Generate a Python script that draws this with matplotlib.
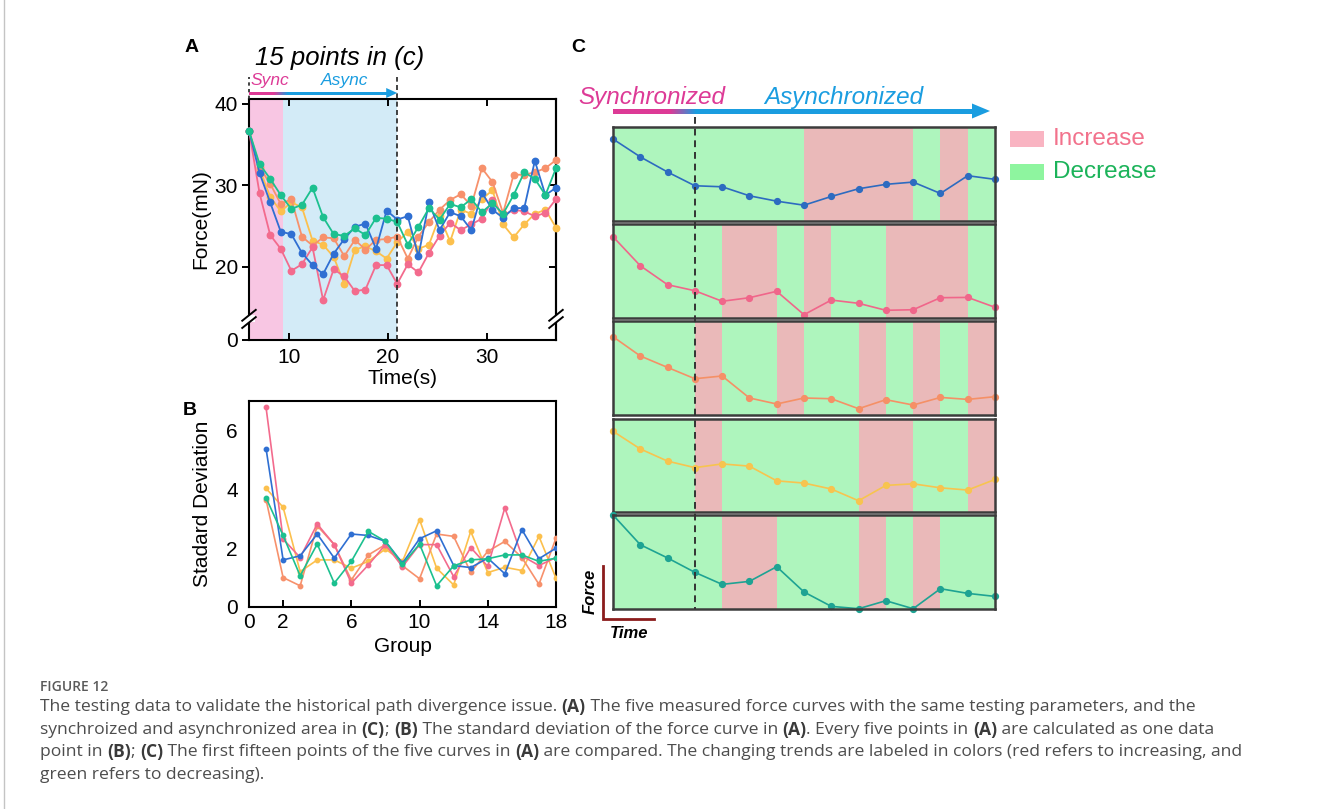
import numpy as np
import matplotlib
matplotlib.use("Agg")
import matplotlib.pyplot as plt
from matplotlib.patches import Polygon, Rectangle
from matplotlib.colors import to_rgb
import matplotlib.transforms as mtransforms

W, H = 1329, 809
plt.rcParams['font.family'] = ['Liberation Sans', 'DejaVu Sans']

# (A) five force curves, 30 samples between 6 s and 37 s
time_s = np.linspace(6, 37, 30)
force_pink = [36.7, 29.0, 23.9, 22.2, 19.5, 20.3, 22.4, 15.9, 19.7, 18.8, 17.0, 17.2, 20.2, 20.2, 17.9,
              20.3, 19.3, 21.7, 23.8, 25.4, 24.5, 25.2, 25.9, 28.2, 26.3, 27.0, 26.8, 26.2, 26.6, 28.3]
force_blue = [36.7, 31.5, 27.9, 24.3, 24.0, 21.7, 20.2, 19.1, 21.6, 23.4, 24.9, 25.3, 22.2, 26.9, 25.8,
              26.2, 21.3, 27.9, 24.5, 26.7, 26.2, 24.5, 29.1, 27.0, 26.0, 27.2, 27.2, 33.0, 28.8, 29.7]
force_orange = [36.7, 32.2, 30.2, 27.7, 28.3, 23.7, 22.6, 23.6, 23.5, 21.3, 23.3, 22.1, 23.3, 23.4, 23.7,
                21.0, 23.7, 25.5, 27.0, 28.2, 28.9, 27.5, 32.1, 30.4, 26.6, 31.3, 31.3, 31.6, 32.1, 33.1]
force_yellow = [36.7, 32.0, 28.6, 26.8, 27.9, 27.3, 23.2, 22.7, 21.2, 17.9, 22.1, 22.5, 21.9, 21.0, 23.0,
                24.3, 22.2, 22.7, 26.2, 23.1, 27.0, 26.5, 28.3, 29.4, 25.2, 23.6, 25.2, 26.5, 27.0, 24.8]
force_teal = [36.7, 32.6, 30.8, 28.8, 27.1, 27.6, 29.7, 26.1, 24.0, 23.8, 24.7, 23.9, 26.0, 25.9, 25.5,
              22.7, 24.9, 27.2, 25.8, 27.7, 27.3, 28.3, 26.7, 27.8, 26.5, 28.8, 31.6, 30.8, 28.8, 32.1]

# (B) standard deviation per group
groups = np.arange(1, 19)
std_pink = [6.78, 2.31, 1.68, 2.82, 2.12, 0.81, 1.43, 2.12, 1.37, 2.12, 2.12, 1.03, 2.02, 1.38, 3.37, 1.74, 1.41, 1.68]
std_blue = [5.38, 1.60, 1.74, 2.48, 1.66, 2.48, 2.43, 2.23, 1.49, 2.32, 2.59, 1.41, 1.34, 1.66, 1.13, 2.63, 1.64, 2.00]
std_orange = [3.65, 1.00, 0.72, 2.76, 2.12, 0.92, 1.77, 2.12, 1.40, 0.96, 2.48, 2.40, 1.18, 1.89, 2.23, 1.68, 0.77, 2.34]
std_yellow = [4.03, 3.39, 1.20, 1.60, 1.60, 1.32, 1.55, 1.97, 1.55, 2.97, 1.32, 0.75, 2.57, 1.17, 1.35, 1.24, 2.40, 0.98]
std_teal = [3.71, 2.43, 1.06, 2.14, 0.81, 1.55, 2.57, 2.23, 1.45, 2.14, 0.72, 1.40, 1.60, 1.64, 1.77, 1.77, 1.55, 1.66]

# (C) first fifteen points of each curve, relative force (0-100 per strip)
trend_blue = [87.2, 68.2, 52.1, 37.5, 36.4, 26.8, 21.1, 16.8, 26.1, 34.3, 39.0, 41.4, 29.3, 48.2, 44.3]
trend_pink = [86.5, 55.6, 35.4, 29.0, 17.8, 21.6, 28.4, 3.5, 19.1, 15.6, 8.2, 8.8, 21.6, 21.9, 11.4]
trend_orange = [83.3, 62.8, 50.6, 38.6, 41.5, 18.1, 11.7, 18.1, 17.3, 6.7, 16.3, 10.6, 18.7, 16.6, 19.5]
trend_yellow = [86.8, 67.8, 54.7, 47.7, 51.7, 49.3, 33.5, 31.1, 24.7, 12.1, 28.6, 30.3, 26.0, 23.6, 35.0]
trend_teal = [100.0, 68.4, 54.3, 39.0, 26.2, 29.4, 45.0, 18.1, 2.8, 0.3, 8.8, 0.3, 21.6, 16.6, 13.4]

SYNC_POINTS = 4      # points shared by all curves
WINDOW_POINTS = 15   # points compared in (C)

PINK, BLUE, ORANGE, YELLOW, TEAL = '#f36b8d', '#2f6fd2', '#f7916c', '#fcc04d', '#1cc08f'
C_COLORS = ['#2d6bc0', '#f0668a', '#f59066', '#f7c44f', '#1ea393']
MAGENTA, SKY = '#dd3a96', '#1a9de0'
UP_FILL, DOWN_FILL = '#eab9b9', '#aef5bd'

fig = plt.figure(figsize=(W / 100, H / 100), dpi=100)


def px_axes(left, top, right, bottom):
    return fig.add_axes([left / W, 1 - bottom / H, (right - left) / W, (bottom - top) / H])


# pixel-space overlay for annotations
ov = fig.add_axes([0, 0, 1, 1])
ov.axis('off')
ov.set_zorder(20)
ov.set_autoscale_on(False)
ov.set_xlim(0, W)
ov.set_ylim(H, 0)


def to_px(ax, x, y):
    dx, dy = ax.transData.transform((x, y))
    return dx, H - dy


def gradient_arrow(x0, x1, y, x_mid, blend, thick, head_len, head_w):
    xe = x1 - head_len + 0.5
    xs = np.linspace(x0, xe, 400)
    frac = np.clip((xs - (x_mid - blend / 2)) / blend, 0, 1)[:, None]
    cols = np.array(to_rgb(MAGENTA)) * (1 - frac) + np.array(to_rgb(SKY)) * frac
    ov.imshow(cols[None, :, :], extent=[x0, xe, y + thick / 2, y - thick / 2], aspect='auto',
              interpolation='bilinear', zorder=5)
    ov.add_patch(Polygon([(x1 - head_len, y - head_w / 2), (x1, y), (x1 - head_len, y + head_w / 2)],
                         closed=True, color=SKY, lw=0, zorder=5))


# page edge on the left
ov.plot([4, 4], [0, H], color='#c4c4c4', lw=1.0)

# ---------------- (A) ----------------
axA = px_axes(249, 99, 556, 340)
axA.set_xlim(6, 37)
axA.set_ylim(11, 40.6)
axA.axvspan(time_s[0], time_s[SYNC_POINTS - 1] + 0.2, color='#f8c6e3', lw=0, zorder=0)
axA.axvspan(time_s[SYNC_POINTS - 1] + 0.2, time_s[WINDOW_POINTS - 1], color='#d3ebf7', lw=0, zorder=0)
for ys, c in [(force_yellow, YELLOW), (force_orange, ORANGE), (force_pink, PINK),
              (force_blue, BLUE), (force_teal, TEAL)]:
    axA.plot(time_s, ys, '-o', color=c, lw=1.3, ms=4.6, clip_on=False, zorder=3)
axA.set_xticks([10, 20, 30])
axA.set_yticks([11, 20, 30, 40])
axA.set_yticklabels(['0', '20', '30', '40'])
axA.tick_params(axis='x', direction='in', top=True, length=5, width=1.4, labelsize=15, pad=6)
axA.tick_params(axis='y', direction='out', length=5, width=1.4, labelsize=15, pad=3)
secA = axA.secondary_yaxis('right')
secA.set_yticks([20, 30])
secA.tick_params(direction='in', length=5, width=1.4, labelright=False)
secA.spines['right'].set_linewidth(1.5)
for s in axA.spines.values():
    s.set_linewidth(1.5)
axA.set_xlabel('Time(s)', fontsize=15, labelpad=1)
axA.set_ylabel('Force(mN)', fontsize=15, labelpad=3)

# axis break marks on both sides
for xa in (0, 1):
    axA.add_patch(Rectangle((xa - 0.02, 0.075), 0.04, 0.03, transform=axA.transAxes,
                            color='white', lw=0, clip_on=False, zorder=6))
    for dy in (-0.015, 0.015):
        axA.plot([xa - 0.022, xa + 0.022], [0.065 + dy, 0.11 + dy], color='black', lw=1.4,
                 transform=axA.transAxes, clip_on=False, zorder=7)

tA = mtransforms.blended_transform_factory(axA.transData, axA.transAxes)
axA.plot([time_s[WINDOW_POINTS - 1]] * 2, [0, 1.09], ls=(0, (3, 2)), color='#222222', lw=1.2,
         transform=tA, clip_on=False, zorder=8)
axA.plot([time_s[0]] * 2, [1, 1.09], ls=(0, (2, 2)), color='#222222', lw=1.2,
         transform=tA, clip_on=False, zorder=8)

xa0, ya_top = to_px(axA, time_s[0], 40.6)
xa1, _ = to_px(axA, time_s[WINDOW_POINTS - 1], 40.6)
xam, _ = to_px(axA, time_s[SYNC_POINTS - 1], 40.6)
gradient_arrow(xa0, xa1, ya_top - 6, xam, 14, 3, 11, 10)
ov.text(270, 80, 'Sync', color=MAGENTA, style='italic', fontsize=12.5, ha='center', va='center')
ov.text(345, 80, 'Async', color=SKY, style='italic', fontsize=12.5, ha='center', va='center')
ov.text(340, 58, '15 points in (c)', style='italic', fontsize=18.5, ha='center', va='center')

# ---------------- (B) ----------------
axB = px_axes(249, 401, 556, 607)
axB.set_xlim(0, 18)
axB.set_ylim(0, 7)
for ys, c in [(std_yellow, YELLOW), (std_orange, ORANGE), (std_pink, PINK),
              (std_blue, BLUE), (std_teal, TEAL)]:
    axB.plot(groups, ys, '-o', color=c, lw=1.2, ms=3.2, zorder=3)
axB.set_xticks([0, 2, 6, 10, 14, 18])
axB.set_yticks([0, 2, 4, 6])
axB.tick_params(axis='x', direction='in', length=5, width=1.4, labelsize=15, pad=4)
axB.tick_params(axis='y', direction='in', length=0, labelsize=15, pad=8)
for s in axB.spines.values():
    s.set_linewidth(1.5)
axB.set_xlabel('Group', fontsize=15, labelpad=4)
axB.set_ylabel('Stadard Deviation', fontsize=15, labelpad=10)

# ---------------- (C) ----------------
strips = [(127, 221), (224, 318), (321, 415), (419, 512), (515, 609)]
trends = [trend_blue, trend_pink, trend_orange, trend_yellow, trend_teal]
axesC = []
for (top, bottom), ys, c in zip(strips, trends, C_COLORS):
    ax = px_axes(613, top, 995, bottom)
    idx = np.arange(len(ys))
    ax.set_xlim(0, len(ys) - 1)
    ax.set_ylim(0, 100)
    for i in range(len(ys) - 1):
        ax.axvspan(i, i + 1, color=UP_FILL if ys[i + 1] > ys[i] else DOWN_FILL, lw=0, zorder=0)
    ax.plot(idx, ys, '-o', color=c, lw=1.2, ms=4.2, clip_on=False, zorder=4)
    ax.set_xticks([])
    ax.set_yticks([])
    for s in ax.spines.values():
        s.set_linewidth(1.8)
        s.set_color('#3c3c3c')
        s.set_zorder(5)
    axesC.append(ax)

tC = mtransforms.blended_transform_factory(axesC[0].transData, ov.transData)
ov.plot([SYNC_POINTS - 1] * 2, [117, 609], ls=(0, (3.5, 2.5)), color='#333333', lw=1.4, transform=tC)

xc0, yc_top = to_px(axesC[0], 0, 100)
xc3, _ = to_px(axesC[0], SYNC_POINTS - 1, 100)
gradient_arrow(xc0, 990, 111, xc3 - 12, 26, 5, 18, 15)
ov.text(652, 97, 'Synchronized', color=MAGENTA, style='italic', fontsize=17.5, ha='center', va='center')
ov.text(844, 97, 'Asynchronized', color=SKY, style='italic', fontsize=17.5, ha='center', va='center')

# legend
ov.add_patch(Rectangle((1010, 131), 34, 16, color='#f9b4c2', lw=0))
ov.add_patch(Rectangle((1010, 164), 34, 16, color='#8ef59f', lw=0))
ov.text(1053, 139, 'Increase', color='#f2728c', fontsize=17.5, va='center')
ov.text(1053, 172, 'Decrease', color='#1cb35a', fontsize=17.5, va='center')

# force/time key
ov.plot([603, 603, 654], [566, 619, 619], color='#8b1c1c', lw=2, solid_joinstyle='miter')
ov.text(590, 591, 'Force', rotation=90, fontsize=12, fontweight='bold', style='italic',
        ha='center', va='center')
ov.text(629, 634, 'Time', fontsize=12, fontweight='bold', style='italic', ha='center', va='center')

# panel letters
for x, y, s in [(192, 47, 'A'), (190, 410, 'B'), (578, 47, 'C')]:
    ov.text(x, y, s, fontsize=14, fontweight='bold', ha='center', va='center')

# ---------------- caption ----------------
CAP_GRAY, CAP_DARK = '#4d4d4d', '#3a3a3a'
cap_font = dict(family=['Open Sans', 'DejaVu Sans'], fontsize=12.6)
renderer = fig.canvas.get_renderer()


def rich_line(x, y, parts):
    for s, bold in parts:
        wt = 'bold' if bold else 'normal'
        ov.text(x, y, s, fontweight=wt, color=CAP_DARK if bold else CAP_GRAY,
                va='center', ha='left', **cap_font)
        probe = ov.text(0, 0, s + '|', fontweight=wt, **cap_font)
        bar = ov.text(0, 0, '|', fontweight=wt, **cap_font)
        x += probe.get_window_extent(renderer).width - bar.get_window_extent(renderer).width
        probe.remove()
        bar.remove()


ov.text(40, 687, 'FIGURE 12', color='#5a5a5a', va='center', family=['Open Sans', 'DejaVu Sans'],
        fontsize=10, fontweight='semibold')
caption = [
    [('The testing data to validate the historical path divergence issue. ', False), ('(A)', True),
     (' The five measured force curves with the same testing parameters, and the', False)],
    [('synchroized and asynchronized area in ', False), ('(C)', True), ('; ', False), ('(B)', True),
     (' The standard deviation of the force curve in ', False), ('(A)', True),
     ('. Every five points in ', False), ('(A)', True), (' are calculated as one data', False)],
    [('point in ', False), ('(B)', True), ('; ', False), ('(C)', True),
     (' The first fifteen points of the five curves in ', False), ('(A)', True),
     (' are compared. The changing trends are labeled in colors (red refers to increasing, and', False)],
    [('green refers to decreasing).', False)],
]
for k, parts in enumerate(caption):
    rich_line(40, 707 + 22.6 * k, parts)

ov.set_xlim(0, W)
ov.set_ylim(H, 0)
fig.savefig('out.png', dpi=100)
